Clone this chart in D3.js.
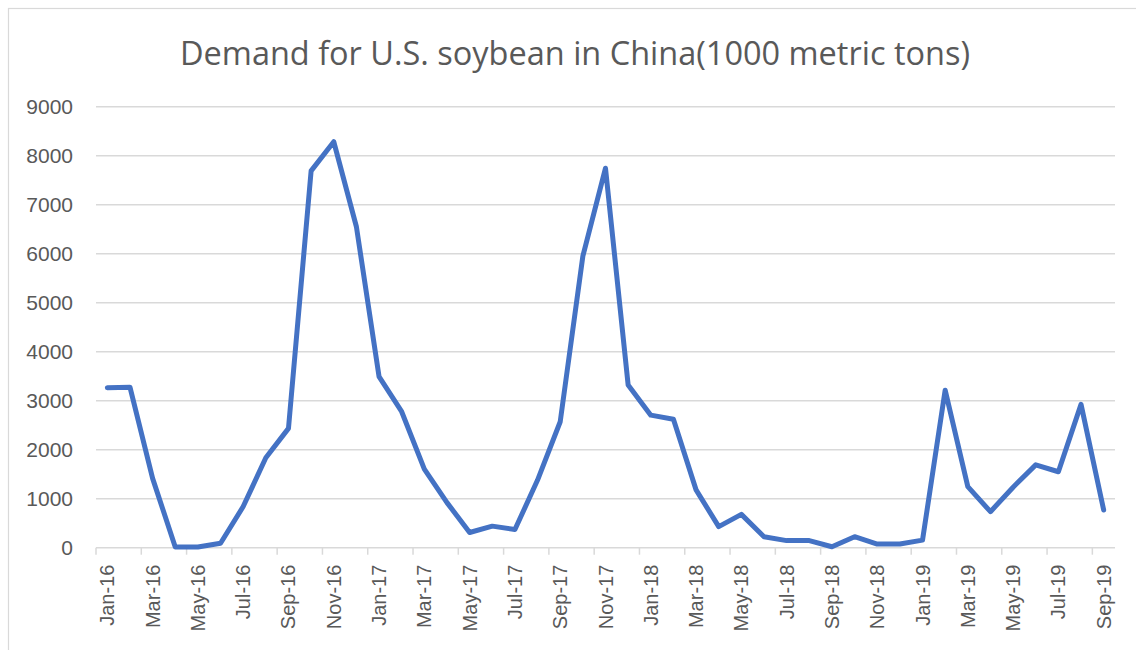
<!DOCTYPE html>
<html>
<head>
<meta charset="utf-8">
<script src="https://cdn.jsdelivr.net/npm/d3@7"></script>
<style>
  html, body { margin: 0; padding: 0; background: #fff; }
  svg { display: block; }
</style>
</head>
<body>
<svg id="chart" width="1136" height="650"></svg>
<script>
'use strict';

// chart data
var titleText = 'Demand for U.S. soybean in China(1000 metric tons)';
var months = [
    'Jan-16', 'Feb-16', 'Mar-16', 'Apr-16', 'May-16', 'Jun-16', 'Jul-16', 'Aug-16', 'Sep-16', 'Oct-16', 'Nov-16', 'Dec-16',
    'Jan-17', 'Feb-17', 'Mar-17', 'Apr-17', 'May-17', 'Jun-17', 'Jul-17', 'Aug-17', 'Sep-17', 'Oct-17', 'Nov-17', 'Dec-17',
    'Jan-18', 'Feb-18', 'Mar-18', 'Apr-18', 'May-18', 'Jun-18', 'Jul-18', 'Aug-18', 'Sep-18', 'Oct-18', 'Nov-18', 'Dec-18',
    'Jan-19', 'Feb-19', 'Mar-19', 'Apr-19', 'May-19', 'Jun-19', 'Jul-19', 'Aug-19', 'Sep-19'
];
var demand = [
    3265, 3275, 1415, 15, 15, 90, 840, 1835, 2435, 7690, 8285, 6550,
    3490, 2775, 1605, 920, 310, 440, 370, 1380, 2570, 5950, 7745, 3320,
    2705, 2620, 1180, 430, 680, 225, 145, 145, 20, 225, 75, 75,
    155, 3215, 1245, 735, 1235, 1690, 1550, 2925, 770
];
var yTicks = [0, 1000, 2000, 3000, 4000, 5000, 6000, 7000, 8000, 9000];

(function () {
    var plotLeft = 96, plotRight = 1115, plotTop = 106.7, plotBottom = 547.7;
    var textColor = '#595959', gridColor = '#d9d9d9', lineColor = '#4472c4';

    var svg = d3.select('#chart');

    // outer chart border
    svg.append('rect')
        .attr('x', 8.5).attr('y', 8.5)
        .attr('width', 1140).attr('height', 660)
        .attr('fill', '#fff').attr('stroke', gridColor).attr('stroke-width', 1.2);

    var x = d3.scaleBand().domain(months).range([plotLeft, plotRight]).padding(0);
    var y = d3.scaleLinear().domain([0, 9000]).range([plotBottom, plotTop]);

    // horizontal gridlines
    svg.append('g').selectAll('line').data(yTicks.slice(1)).join('line')
        .attr('x1', plotLeft).attr('x2', plotRight)
        .attr('y1', function (d) { return y(d); })
        .attr('y2', function (d) { return y(d); })
        .attr('stroke', gridColor).attr('stroke-width', 1.5);

    // y axis labels
    var yAxis = svg.append('g')
        .attr('transform', 'translate(' + (plotLeft - 23) + ',0)')
        .call(d3.axisLeft(y).tickValues(yTicks).tickSize(0).tickPadding(0).tickFormat(d3.format('d')));
    yAxis.select('.domain').remove();
    yAxis.selectAll('text')
        .attr('fill', textColor)
        .style('font-family', '"Liberation Sans", Arial, sans-serif')
        .style('font-size', '21px');

    // x axis line and tick marks (between categories, every second month)
    svg.append('line')
        .attr('x1', plotLeft).attr('x2', plotRight)
        .attr('y1', plotBottom).attr('y2', plotBottom)
        .attr('stroke', gridColor).attr('stroke-width', 1.5);

    var labelled = months.filter(function (m, i) { return i % 2 === 0; });

    svg.append('g').selectAll('line').data(labelled).join('line')
        .attr('x1', function (d) { return x(d); })
        .attr('x2', function (d) { return x(d); })
        .attr('y1', plotBottom).attr('y2', plotBottom + 7)
        .attr('stroke', gridColor).attr('stroke-width', 1.5);

    var xAxis = svg.append('g')
        .attr('transform', 'translate(0,' + plotBottom + ')')
        .call(d3.axisBottom(x).tickValues(labelled).tickSize(0).tickPadding(0));
    xAxis.select('.domain').remove();
    xAxis.selectAll('text')
        .attr('fill', textColor)
        .attr('text-anchor', 'end')
        .attr('dy', '0.35em')
        .attr('transform', 'translate(0,17) rotate(-90)')
        .attr('y', 0).attr('x', 0)
        .style('font-family', '"Liberation Sans", Arial, sans-serif')
        .style('font-size', '20px');

    // the data line
    var line = d3.line()
        .x(function (d, i) { return x(months[i]) + x.bandwidth() / 2; })
        .y(function (d) { return y(d); });

    svg.append('path')
        .datum(demand)
        .attr('d', line)
        .attr('fill', 'none')
        .attr('stroke', lineColor)
        .attr('stroke-width', 5)
        .attr('stroke-linejoin', 'round')
        .attr('stroke-linecap', 'round');

    // title
    svg.append('text')
        .attr('x', 575).attr('y', 65)
        .attr('text-anchor', 'middle')
        .attr('fill', textColor)
        .attr('textLength', 790)
        .attr('lengthAdjust', 'spacingAndGlyphs')
        .style('font-family', '"Open Sans", sans-serif')
        .style('font-size', '33px')
        .text(titleText);
})();
</script>
</body>
</html>
